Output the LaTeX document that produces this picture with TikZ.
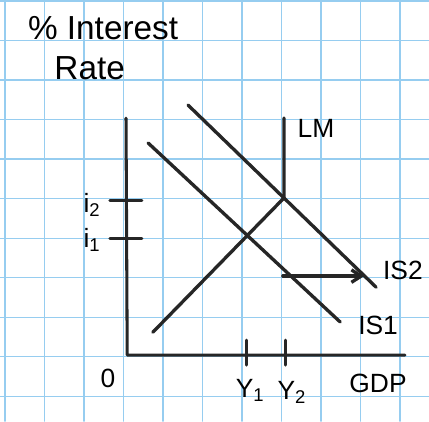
\documentclass[tikz,border=0pt]{standalone}
\usepackage{fontspec}
\setmainfont{Liberation Sans}
\usetikzlibrary{arrows.meta}
\definecolor{gridblue}{RGB}{150,205,240}
\begin{document}
\begin{tikzpicture}[x=1cm,y=1cm,>={Straight Barb[length=7pt,width=9pt]}, font=\fontsize{19}{22}\selectfont, line join=round, line cap=round,
	gridline/.style={gridblue, line width=1pt},
	curve/.style={line width=2.4pt, black!85},
	axis/.style={line width=2.2pt, black!85}]
	\def\xmax{10.86} \def\ymax{10.66}
	\useasboundingbox (0,0) rectangle (\xmax,\ymax);
	\fill[white] (0,0) rectangle (\xmax,\ymax);
	% grid paper
	\foreach \x in {0,...,10} \draw[gridline] (0.127+\x,0)--(0.127+\x,\ymax);
	\foreach \y in {0,...,10} \draw[gridline] (0,0.63+\y)--(\xmax,0.63+\y);
	% axes
	\coordinate (O) at (3.22,1.67);
	\coordinate (ytop) at (3.19,7.67);
	\coordinate (xend) at (10.25,1.67);
	\draw[axis] (ytop)--(O)--(xend);
	\draw[axis] (2.78,5.59)--(3.59,5.59) (2.78,4.63)--(3.59,4.63);
	\draw[axis] (6.23,2.05)--(6.23,1.42) (7.22,2.05)--(7.22,1.42);
	% curves
	\coordinate (LMa) at (3.87,2.25);
	\coordinate (LMb) at (7.19,5.65);
	\coordinate (LMc) at (7.19,7.67);
	\draw[curve] (LMa)--(LMb)--(LMc);
	\coordinate (ISa) at (3.75,7.04);
	\coordinate (ISb) at (8.61,2.51);
	\draw[curve] (ISa)--(ISb);
	\coordinate (ISc) at (4.76,8.0);
	\coordinate (ISd) at (9.52,3.39);
	\draw[curve] (ISc)--(ISd);
	\coordinate (shift0) at (7.16,3.67);
	\coordinate (shift1) at (9.22,3.67);
	\draw[curve,->] (shift0)--(shift1);
	% labels
	\node (title) at (2.61,9.95) {\fontsize{24}{28}\selectfont\% Interest};
	\node (rate) at (2.27,8.94) {\fontsize{24}{28}\selectfont Rate};
	\node (lm) at (8.0,7.42) {LM};
	\node (is2) at (10.2,3.82) {IS2};
	\node (is1) at (9.57,2.41) {IS1};
	\node (zero) at (2.73,1.09) {0};
	\node (gdp) at (9.57,0.96) {GDP};
	\node (y1) at (6.33,0.78) {Y\textsubscript{1}};
	\node (y2) at (7.39,0.73) {Y\textsubscript{2}};
	\node (i2) at (2.33,5.47) {i\textsubscript{2}};
	\node (i1) at (2.33,4.58) {i\textsubscript{1}};
\end{tikzpicture}
\end{document}
